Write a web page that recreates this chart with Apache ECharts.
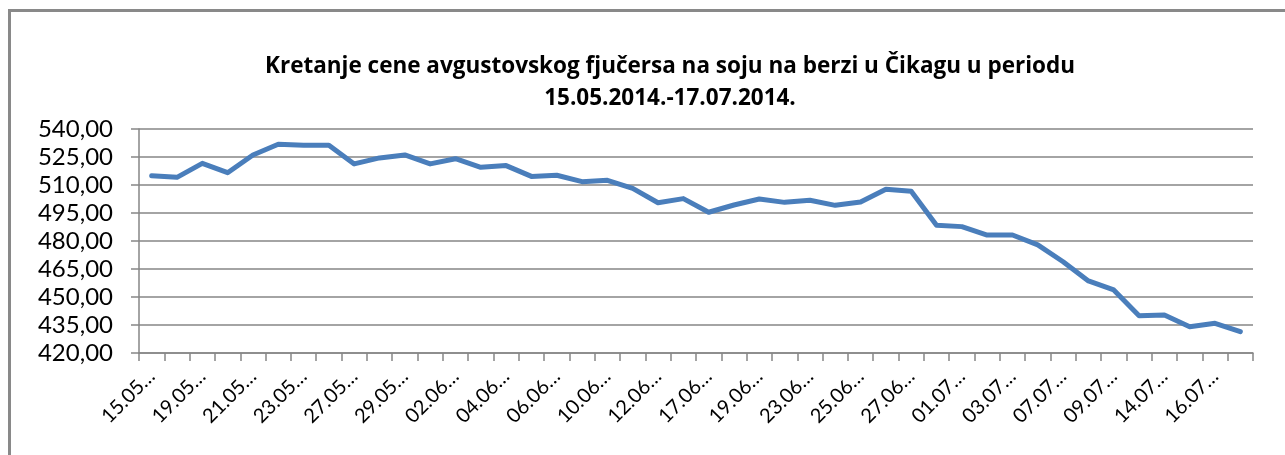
<!DOCTYPE html>
<html>
<head>
<meta charset="utf-8">
<script src="https://cdn.jsdelivr.net/npm/echarts@6/dist/echarts.min.js"></script>
<style>
  html, body { margin: 0; padding: 0; background: #fff; }
  #main { width: 1285px; height: 455px; }
</style>
</head>
<body>
<div id="main"></div>
<script>
var myChart = echarts.init(document.getElementById("main"));

var dates = [
    "15.05.2014.", "16.05.2014.", "19.05.2014.", "20.05.2014.", "21.05.2014.", "22.05.2014.",
    "23.05.2014.", "26.05.2014.", "27.05.2014.", "28.05.2014.", "29.05.2014.", "30.05.2014.",
    "02.06.2014.", "03.06.2014.", "04.06.2014.", "05.06.2014.", "06.06.2014.", "09.06.2014.",
    "10.06.2014.", "11.06.2014.", "12.06.2014.", "13.06.2014.", "17.06.2014.", "18.06.2014.",
    "19.06.2014.", "20.06.2014.", "23.06.2014.", "24.06.2014.", "25.06.2014.", "26.06.2014.",
    "27.06.2014.", "30.06.2014.", "01.07.2014.", "02.07.2014.", "03.07.2014.", "04.07.2014.",
    "07.07.2014.", "08.07.2014.", "09.07.2014.", "10.07.2014.", "14.07.2014.", "15.07.2014.",
    "16.07.2014.", "17.07.2014."
];
var prices = [
    515.0, 514.1, 521.6, 516.6, 526.1, 531.8, 531.3, 531.3, 521.3, 524.5, 526.1, 521.3,
    524.1, 519.5, 520.4, 514.6, 515.2, 511.8, 512.5, 508.2, 500.5, 502.7, 495.4, 499.3,
    502.5, 500.7, 501.8, 499.1, 500.9, 507.7, 506.6, 488.4, 487.7, 483.2, 483.2, 477.9,
    468.9, 458.6, 453.8, 440.0, 440.4, 434.1, 435.9, 431.4
];
var yMin = 420;
var yMax = 540;
var yStep = 15;

var option = {
    animation: false,
    title: {
        text: 'Kretanje cene avgustovskog fjučersa na soju na berzi u Čikagu u periodu\n15.05.2014.-17.07.2014.',
        left: 665,
        top: 46,
        textAlign: 'center',
        textStyle: {
            fontFamily: 'Open Sans',
            fontWeight: 'bold',
            fontSize: 22.5,
            lineHeight: 32,
            color: '#000'
        }
    },
    graphic: [{
        type: 'rect',
        shape: { x: 9.5, y: 10.5, width: 1400, height: 600 },
        style: { fill: 'none', stroke: '#898989', lineWidth: 3 },
        silent: true
    }],
    grid: {
        left: 139,
        right: 32,
        top: 129,
        bottom: 102
    },
    xAxis: {
        type: 'category',
        data: dates,
        boundaryGap: true,
        axisLine: { lineStyle: { color: '#868686', width: 1.5 } },
        axisTick: { show: true, interval: 0, length: 8, lineStyle: { color: '#868686', width: 1.5 } },
        axisLabel: {
            interval: 1,
            rotate: 45,
            margin: 20,
            fontFamily: 'Lato',
            fontSize: 20,
            color: '#000',
            formatter: function (v) { return v.slice(0, 5) + '…'; }
        }
    },
    yAxis: {
        type: 'value',
        min: yMin,
        max: yMax,
        interval: yStep,
        axisLine: { show: true, lineStyle: { color: '#868686', width: 1.5 } },
        axisTick: { show: true, length: 8, lineStyle: { color: '#868686', width: 1.5 } },
        splitLine: { lineStyle: { color: '#868686', width: 1.5 } },
        axisLabel: {
            margin: 26,
            fontFamily: 'Lato',
            fontSize: 24,
            color: '#000',
            formatter: function (v) { return v.toFixed(2).replace('.', ','); }
        }
    },
    series: [{
        type: 'line',
        data: prices,
        symbol: 'none',
        lineStyle: { color: '#4a7ebb', width: 5, join: 'round', cap: 'round' }
    }]
};
myChart.setOption(option);
</script>
</body>
</html>
